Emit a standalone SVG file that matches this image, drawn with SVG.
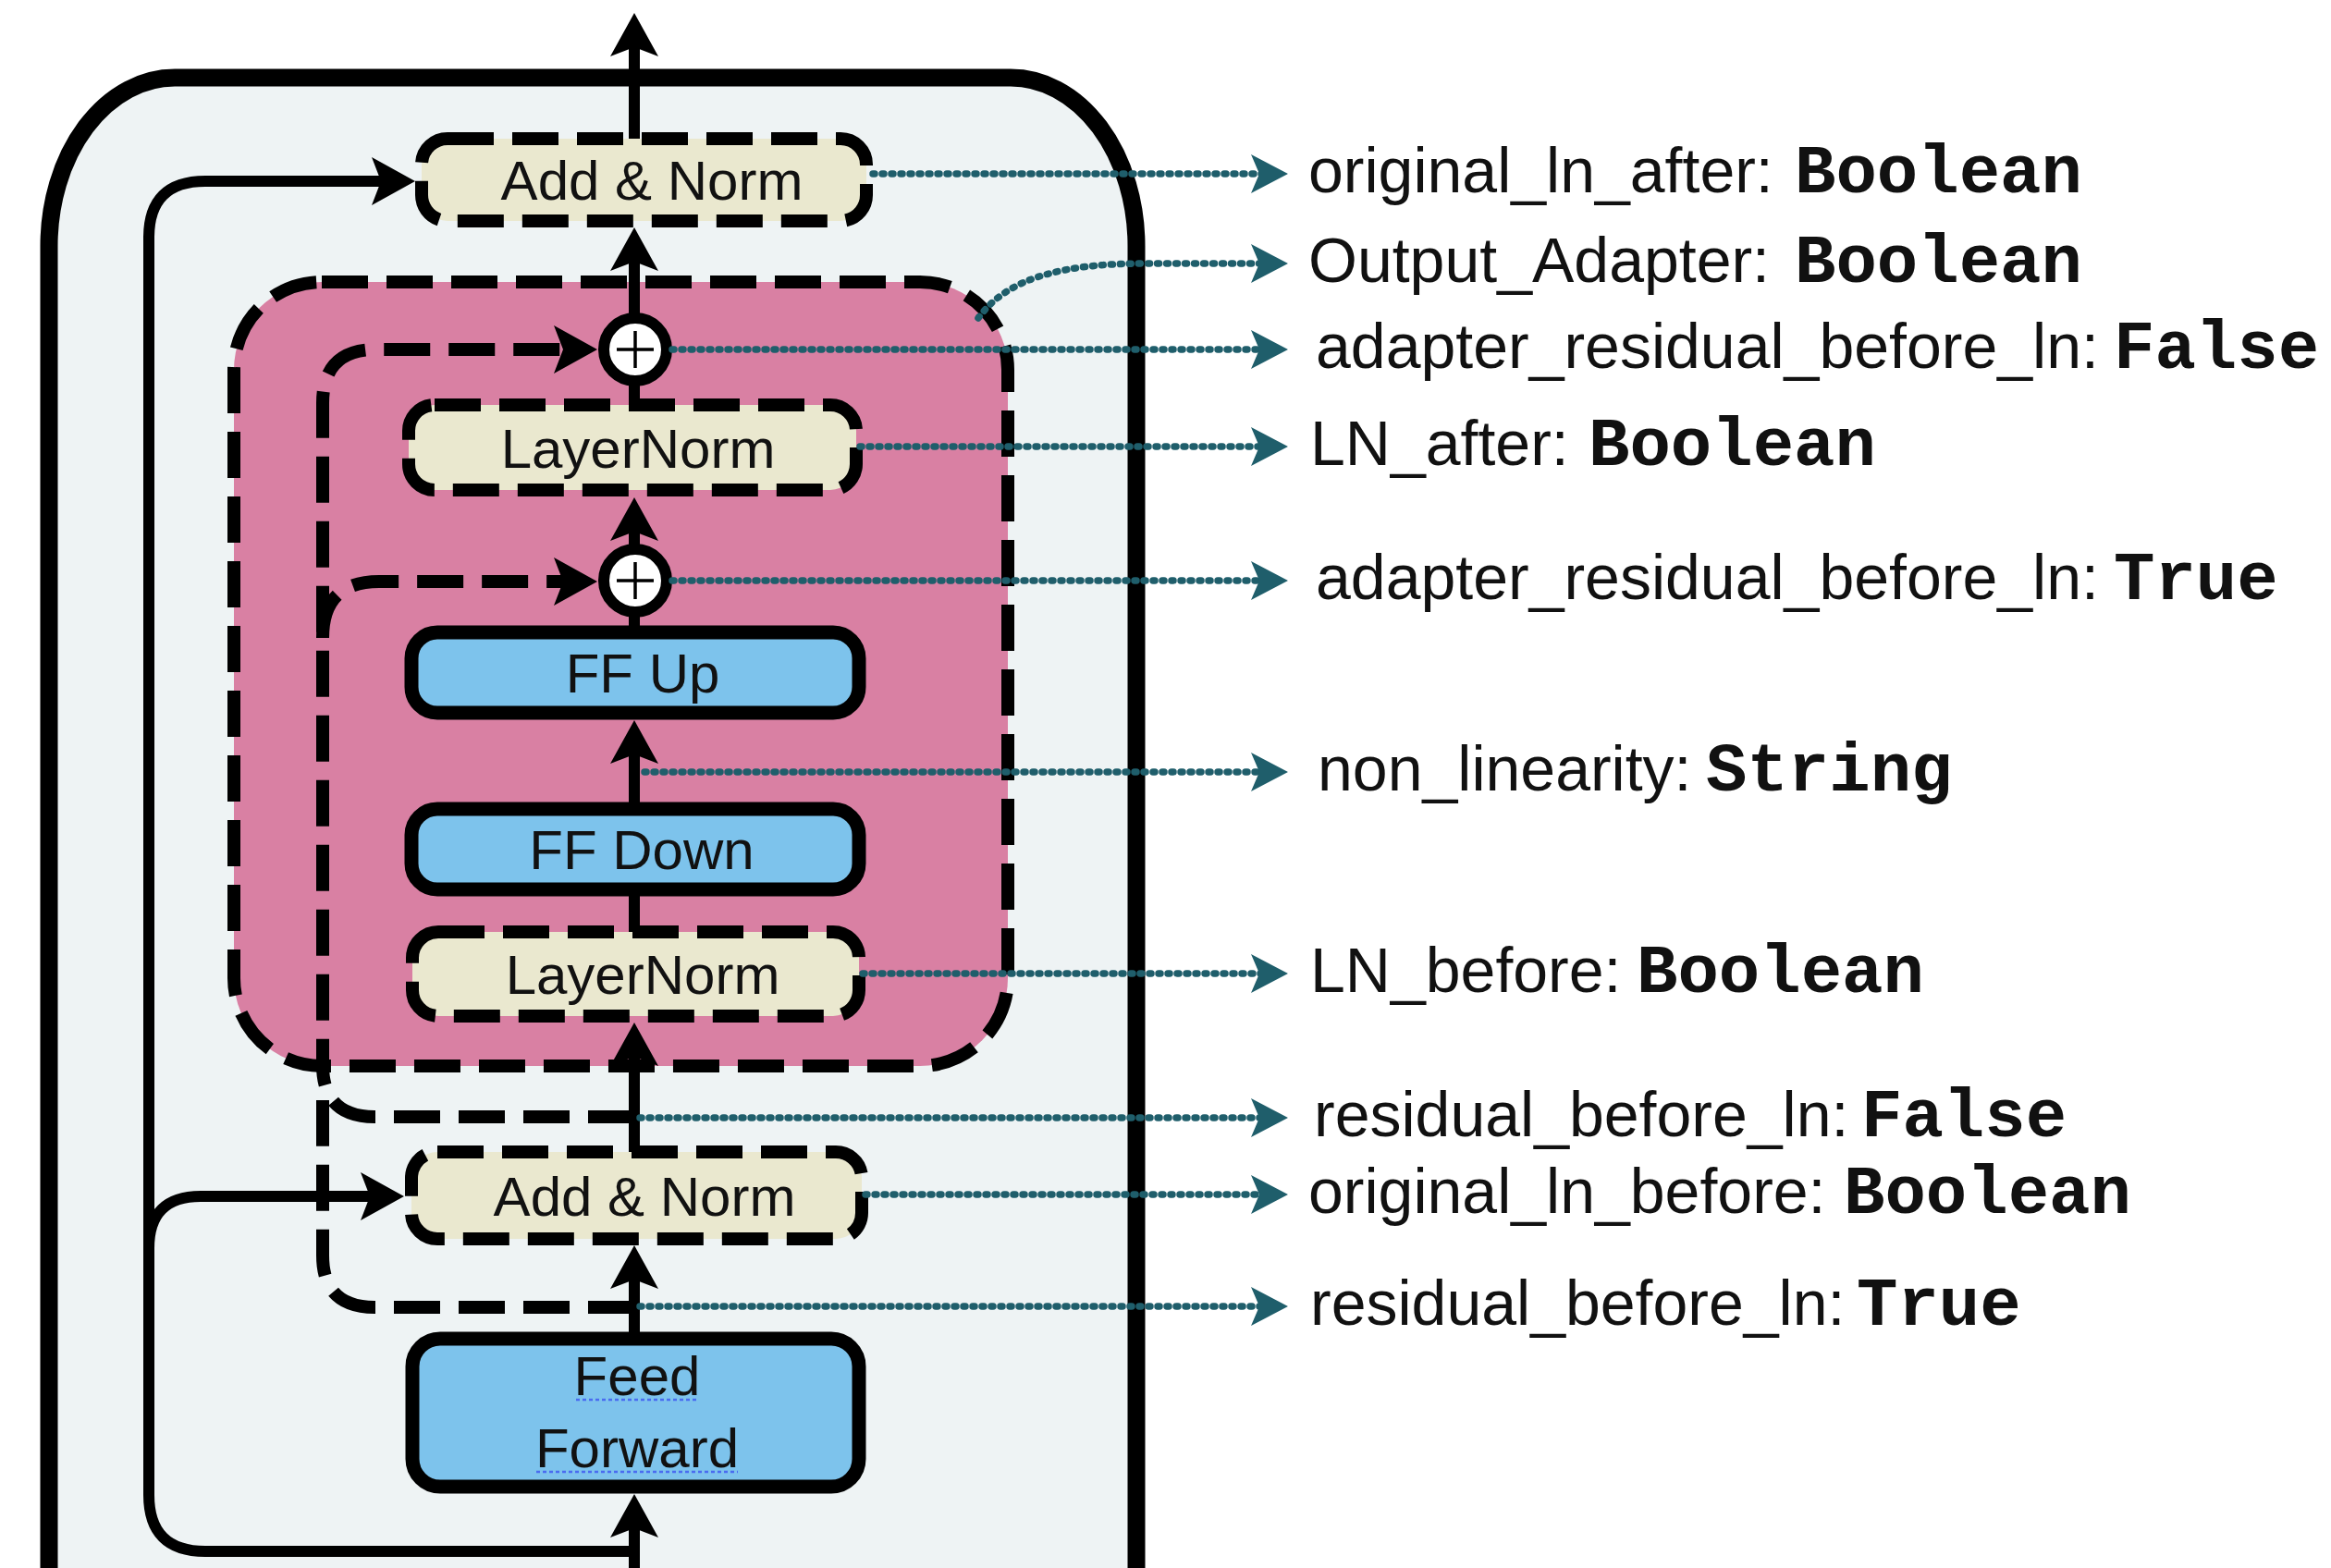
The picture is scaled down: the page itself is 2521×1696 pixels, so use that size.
<svg xmlns="http://www.w3.org/2000/svg" width="2521" height="1696" viewBox="0 0 2521 1696">
<style>
.box{stroke:#000;stroke-width:14}
.dash{stroke-dasharray:50 20}
.beige{fill:#EAE8CF}
.blue{fill:#7DC3EC;stroke-width:15}
.lab{font-family:"Liberation Sans",Arial,sans-serif;font-size:60px;fill:#111;text-anchor:middle}
.ln{fill:none;stroke:#000;stroke-width:12}
.dl{fill:none;stroke:#000;stroke-width:14;stroke-dasharray:50 20}
.dot{fill:none;stroke:#1F5E6B;stroke-width:7.5;stroke-linecap:round;stroke-dasharray:2 8}
.txt{font-family:"Liberation Sans",Arial,sans-serif;font-size:68px;fill:#111}
.mono{font-family:"Liberation Mono","Courier New",monospace;font-size:74px;font-weight:bold;fill:#111}
.sq{stroke:#4A6CF0;stroke-width:2.5;stroke-dasharray:4 3}
</style>
<defs>
<marker id="ah" markerUnits="userSpaceOnUse" markerWidth="50" markerHeight="60" refX="20" refY="30" orient="auto" overflow="visible"><path d="M0,4 L47,30 L0,56 L10,30 Z" fill="#000"/></marker>
<marker id="ta" markerUnits="userSpaceOnUse" markerWidth="44" markerHeight="60" refX="12" refY="30" orient="auto" overflow="visible"><path d="M0,9 L40,30 L0,51 L9,30 Z" fill="#1F5E6B"/></marker>
</defs>
<rect width="2521" height="1696" fill="#fff"/>
<g id="transformer-layer">
<path d="M53,1720 V266 A136,182 0 0 1 189,84 H1093 A136,182 0 0 1 1229,266 V1720" fill="#EEF3F4" stroke="#000" stroke-width="19"/>
</g>
<g id="residual-solid">
<path class="ln" d="M686,1678 H222 Q161,1678 161,1617 V257 Q161,196 222,196 H422" marker-end="url(#ah)"/>
<path class="ln" d="M161,1350 Q161,1294 217,1294 H410" marker-end="url(#ah)"/>
</g>
<g id="adapter">
<rect x="253" y="305" width="837" height="848" rx="95" fill="#D980A3" stroke="#000" stroke-width="14" class="dash"/>
</g>
<g id="connectors">
<path class="dl" d="M686,1208 H405 Q349,1208 349,1152 V436 Q349,378 407,378 H619" marker-end="url(#ah)"/>
<path class="dl" d="M686,1414 H405 Q349,1414 349,1358 V1190"/>
<path class="dl" d="M349,690 Q349,629 410,629 H619" marker-end="url(#ah)"/>
<path class="ln" d="M686,150 V41" marker-end="url(#ah)"/>
<path class="ln" d="M686,345 V273" marker-end="url(#ah)"/>
<path class="ln" d="M686,594 V565" marker-end="url(#ah)"/>
<path class="ln" d="M686,875 V806" marker-end="url(#ah)"/>
<path class="ln" d="M686,1246 V1133" marker-end="url(#ah)"/>
<path class="ln" d="M686,1448 V1374" marker-end="url(#ah)"/>
<path class="ln" d="M686,1700 V1643" marker-end="url(#ah)"/>
<path class="ln" d="M686,438 V410"/>
<path class="ln" d="M686,684 V660"/>
<path class="ln" d="M686,1008 V962"/>
</g>
<g id="add-norm-top"><rect class="box beige dash" x="456" y="150" width="481" height="89" rx="28"/><text class="lab" x="705" y="216">Add &amp; Norm</text></g>
<g id="plus-top"><circle cx="687" cy="378" r="34" fill="#fff" stroke="#000" stroke-width="12"/><path d="M667,378 H707 M687,358 V398" stroke="#000" stroke-width="3.5"/></g>
<g id="layernorm-top"><rect class="box beige dash" x="442" y="438" width="484" height="92" rx="28"/><text class="lab" x="690" y="506">LayerNorm</text></g>
<g id="plus-bottom"><circle cx="687" cy="628" r="34" fill="#fff" stroke="#000" stroke-width="12"/><path d="M667,628 H707 M687,608 V648" stroke="#000" stroke-width="3.5"/></g>
<g id="ff-up"><rect class="box blue" x="445" y="684" width="484" height="87" rx="28"/><text class="lab" x="695" y="749">FF Up</text></g>
<g id="ff-down"><rect class="box blue" x="445" y="875" width="484" height="87" rx="28"/><text class="lab" x="694" y="940">FF Down</text></g>
<g id="layernorm-bottom"><rect class="box beige dash" x="446" y="1008" width="483" height="91" rx="28"/><text class="lab" x="695" y="1075">LayerNorm</text></g>
<g id="add-norm-bottom"><rect class="box beige dash" x="445" y="1246" width="487" height="94" rx="28"/><text class="lab" x="697" y="1315">Add &amp; Norm</text></g>
<g id="feed-forward"><rect class="box blue" x="446" y="1448" width="483" height="160" rx="30"/><text class="lab" x="689" y="1509">Feed</text><text class="lab" x="689" y="1587">Forward</text><path class="sq" d="M623,1514 H755 M580,1592 H798"/></g>
<g id="config-links">
<path class="dot" d="M944,188 H1365" marker-end="url(#ta)"/>
<path class="dot" d="M1058,344 C1090,300 1150,285 1240,285 H1365" marker-end="url(#ta)"/>
<path class="dot" d="M727,378 H1365" marker-end="url(#ta)"/>
<path class="dot" d="M930,483 H1365" marker-end="url(#ta)"/>
<path class="dot" d="M727,628 H1365" marker-end="url(#ta)"/>
<path class="dot" d="M697,835 H1365" marker-end="url(#ta)"/>
<path class="dot" d="M933,1053 H1365" marker-end="url(#ta)"/>
<path class="dot" d="M692,1209 H1365" marker-end="url(#ta)"/>
<path class="dot" d="M936,1292 H1365" marker-end="url(#ta)"/>
<path class="dot" d="M692,1413 H1365" marker-end="url(#ta)"/>
</g>
<g id="config-labels">
<text class="txt" x="1415" y="208">original_ln_after:<tspan class="mono" x="1941">Boolean</tspan></text>
<text class="txt" x="1415" y="305">Output_Adapter:<tspan class="mono" x="1941">Boolean</tspan></text>
<text class="txt" x="1423" y="398">adapter_residual_before_ln:<tspan class="mono" x="2286">False</tspan></text>
<text class="txt" x="1417" y="503">LN_after:<tspan class="mono" x="1718">Boolean</tspan></text>
<text class="txt" x="1423" y="648">adapter_residual_before_ln:<tspan class="mono" x="2286">True</tspan></text>
<text class="txt" x="1425" y="855">non_linearity:<tspan class="mono" x="1845">String</tspan></text>
<text class="txt" x="1417" y="1073">LN_before:<tspan class="mono" x="1770">Boolean</tspan></text>
<text class="txt" x="1421" y="1229">residual_before_ln:<tspan class="mono" x="2013">False</tspan></text>
<text class="txt" x="1415" y="1312">original_ln_before:<tspan class="mono" x="1994">Boolean</tspan></text>
<text class="txt" x="1417" y="1433">residual_before_ln:<tspan class="mono" x="2008">True</tspan></text>
</g>
</svg>
